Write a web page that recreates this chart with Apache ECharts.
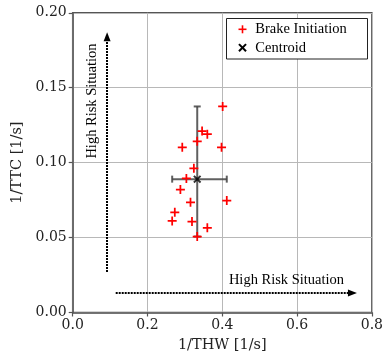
<!DOCTYPE html>
<html>
<head>
<meta charset="utf-8">
<script src="https://cdn.jsdelivr.net/npm/echarts@6/dist/echarts.min.js"></script>
<style>html,body{margin:0;padding:0;background:#fff}#c{width:386px;height:359px}</style>
</head>
<body>
<div id="c"></div>
<script>
// Brake initiation points
const thw = [0.401, 0.346, 0.360, 0.333, 0.293, 0.398, 0.324, 0.304, 0.288, 0.412, 0.315, 0.273, 0.266, 0.319, 0.360, 0.333];
const ttc = [0.1375, 0.1211, 0.1190, 0.1142, 0.1102, 0.1102, 0.0962, 0.0895, 0.0820, 0.0747, 0.0735, 0.0669, 0.0611, 0.0607, 0.0565, 0.0507];
// Centroid and its error bars
const centroid = [0.333, 0.089];
const errX = [0.266, 0.412];
const errY = [0.0507, 0.1375];
// Annotation arrows
const arrowV = [[0.092, 0.027], [0.092, 0.184]];
const arrowH = [[0.115, 0.013], [0.748, 0.013]];
const annotationText = 'High Risk Situation';
// Legend entries
const legendNames = ['Brake Initiation', 'Centroid'];
// Axis ticks
const xTicks = [0, 0.8, 0.2];
const yTicks = [0, 0.2, 0.05];
const xName = '1/THW [1/s]';
const yName = '1/TTC [1/s]';

const PLUS = 'path://M7.25,0 H10.75 V7.25 H18 V10.75 H10.75 V18 H7.25 V10.75 H0 V7.25 H7.25 Z';
const CROSS = 'path://M0,3 L3,0 L9,6 L15,0 L18,3 L12,9 L18,15 L15,18 L9,12 L3,18 L0,15 L6,9 Z';
const serifTick = '"DejaVu Serif", serif';

function txt(x, y, s, align, rot) {
  return {
    type: 'text', x: x, y: y, rotation: rot || 0, z: 101,
    style: { text: s, fontFamily: 'Liberation Serif', fontSize: 14.5, fill: '#000', align: align, verticalAlign: 'middle' }
  };
}

const chart = echarts.init(document.getElementById('c'));
const axisCommon = {
  axisLine: { show: true, onZero: false, lineStyle: { color: '#555', width: 1.5 } },
  axisTick: { show: true, inside: false, length: 4, lineStyle: { color: '#555', width: 1.2 } },
  splitLine: { show: true, lineStyle: { color: '#b8b8b8', width: 1 } },
  nameLocation: 'middle',
  nameTextStyle: { fontFamily: serifTick, fontSize: 14.5, color: '#222' }
};

chart.setOption({
  animation: false,
  grid: { left: 72.7, right: 13, top: 12.8, bottom: 46.5, show: true, borderColor: '#555', borderWidth: 1.5, backgroundColor: 'transparent' },
  xAxis: Object.assign({}, axisCommon, {
    type: 'value', min: xTicks[0], max: xTicks[1], interval: xTicks[2],
    name: xName, nameGap: 16,
    axisLabel: { fontFamily: serifTick, fontSize: 14, color: '#222', margin: 6, formatter: v => v.toFixed(1) }
  }),
  yAxis: Object.assign({}, axisCommon, {
    type: 'value', min: yTicks[0], max: yTicks[1], interval: yTicks[2],
    name: yName, nameGap: 47,
    axisLabel: { fontFamily: serifTick, fontSize: 14, color: '#222', margin: 6, formatter: v => v.toFixed(2) }
  }),
  graphic: [
    txt(92, 101, annotationText, 'center', Math.PI / 2),
    txt(286.5, 280, annotationText, 'center'),
    { type: 'rect', z: 100, shape: { x: 226.5, y: 18.5, width: 141, height: 40.5 }, style: { fill: '#fff', stroke: '#222', lineWidth: 1 } },
    { type: 'rect', z: 101, shape: { x: 238.5, y: 28.5, width: 8, height: 1.6 }, style: { fill: '#ff0000' } },
    { type: 'rect', z: 101, shape: { x: 241.7, y: 25.3, width: 1.6, height: 8 }, style: { fill: '#ff0000' } },
    { type: 'rect', z: 101, x: 242.5, y: 47.7, rotation: Math.PI / 4, shape: { x: -5, y: -1, width: 10, height: 2 }, style: { fill: '#000' } },
    { type: 'rect', z: 101, x: 242.5, y: 47.7, rotation: -Math.PI / 4, shape: { x: -5, y: -1, width: 10, height: 2 }, style: { fill: '#000' } },
    txt(255.3, 29.3, legendNames[0], 'left'),
    txt(255.3, 47.7, legendNames[1], 'left')
  ],
  series: [
    {
      type: 'custom', name: 'errbar', silent: true, z: 2,
      data: [[centroid[0], centroid[1], errX[0], errX[1], errY[0], errY[1]]],
      renderItem: function (params, api) {
        const l = api.coord([api.value(2), api.value(1)]);
        const r = api.coord([api.value(3), api.value(1)]);
        const b = api.coord([api.value(0), api.value(4)]);
        const t = api.coord([api.value(0), api.value(5)]);
        const cap = 3.5;
        const st = { stroke: '#444', lineWidth: 2, opacity: 0.85 };
        const ln = (x1, y1, x2, y2) => ({ type: 'line', shape: { x1, y1, x2, y2 }, style: st });
        return { type: 'group', children: [
          ln(l[0], l[1], r[0], r[1]),
          ln(b[0], b[1], t[0], t[1]),
          ln(l[0], l[1] - cap, l[0], l[1] + cap),
          ln(r[0], r[1] - cap, r[0], r[1] + cap),
          ln(t[0] - cap, t[1], t[0] + cap, t[1]),
          ln(b[0] - cap, b[1], b[0] + cap, b[1])
        ] };
      }
    },
    {
      type: 'scatter', name: legendNames[0], z: 3,
      symbol: PLUS, symbolSize: 9,
      itemStyle: { color: '#ff0000', opacity: 1 },
      data: thw.map((x, i) => [x, ttc[i]]),
      markLine: {
        silent: true, symbol: ['none', 'triangle'], symbolSize: [7, 9],
        label: { show: false },
        lineStyle: { color: '#000', width: 2, type: [2, 1] },
        emphasis: { disabled: true },
        data: [
          [{ coord: arrowV[0] }, { coord: arrowV[1] }],
          [{ coord: arrowH[0] }, { coord: arrowH[1] }]
        ]
      }
    },
    {
      type: 'scatter', name: legendNames[1], z: 4,
      symbol: CROSS, symbolSize: 8,
      itemStyle: { color: '#000' },
      data: [centroid]
    }
  ]
});
</script>
</body>
</html>
